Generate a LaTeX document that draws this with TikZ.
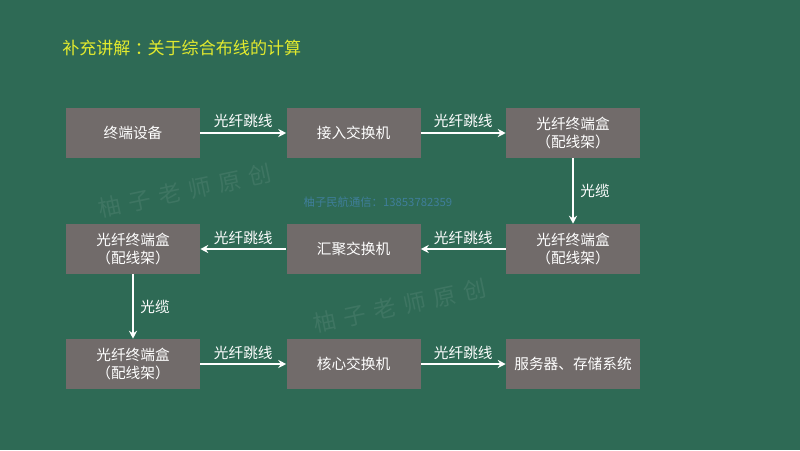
\documentclass[tikz,border=0pt]{standalone}
\usepackage{fontspec}
\setmainfont{Noto Sans CJK SC}
\usetikzlibrary{arrows.meta}
\definecolor{bg}{HTML}{2E6A55}
\definecolor{boxc}{HTML}{716B6A}
\definecolor{titlec}{HTML}{E2EA2E}
\definecolor{wmblue}{HTML}{3F7E9A}
\newcommand{\wmsp}{\hspace{0.35em}}
\begin{document}
\begin{tikzpicture}[x=0.75pt,y=-0.75pt,
  stepbox/.style={fill=boxc,draw=none,minimum width=100.5pt,minimum height=37.5pt,inner sep=0pt,text=white,font=\fontsize{11}{13.5}\selectfont,align=center},
  conn/.style={draw=white,line width=1.2pt,-{Stealth[length=6pt,width=6pt,open]}},
  lbl/.style={text=white,font=\fontsize{11}{13}\selectfont,inner sep=1pt},
  wmark/.style={rotate=12,text=white,opacity=0.08,inner sep=0pt,font=\fontsize{17}{18}\selectfont}]
\fill[bg] (0,0) rectangle (800,450);
\useasboundingbox (0,0) rectangle (800,450);
% watermarks
\node[wmark] (wm1) at (185,191) {柚\wmsp 子\wmsp 老\wmsp 师\wmsp 原\wmsp 创};
\node[wmark] (wm2) at (400,306) {柚\wmsp 子\wmsp 老\wmsp 师\wmsp 原\wmsp 创};
\node[text=wmblue,font=\fontsize{8.5}{10}\selectfont,inner sep=0pt] (wm3) at (378,202) {柚子民航通信：13853782359};
% title
\node[anchor=west,text=titlec,font=\fontsize{12.8}{14}\selectfont,inner sep=0pt] (title) at (62,48) {补充讲解\hspace{0.25em}：\hspace{-0.25em}关于综合布线的计算};
% boxes
\node[stepbox] (a1) at (133,133) {终端设备};
\node[stepbox] (a2) at (353.5,133) {接入交换机};
\node[stepbox] (a3) at (573,133) {光纤终端盒\\（配线架）};
\node[stepbox] (b3) at (573,249) {光纤终端盒\\（配线架）};
\node[stepbox] (b2) at (353.5,249) {汇聚交换机};
\node[stepbox] (b1) at (133,249) {光纤终端盒\\（配线架）};
\node[stepbox] (c1) at (133,364) {光纤终端盒\\（配线架）};
\node[stepbox] (c2) at (353.5,364) {核心交换机};
\node[stepbox] (c3) at (573,364) {服务器、存储系统};
% connectors
\draw[conn] (a1) -- node[lbl,above=2pt] {光纤跳线} (a2);
\draw[conn] (a2) -- node[lbl,above=2pt] {光纤跳线} (a3);
\draw[conn] (a3) -- node[lbl,right=4pt] {光缆} (b3);
\draw[conn] (b3) -- node[lbl,above=2pt] {光纤跳线} (b2);
\draw[conn] (b2) -- node[lbl,above=2pt] {光纤跳线} (b1);
\draw[conn] (b1) -- node[lbl,right=4pt] {光缆} (c1);
\draw[conn] (c1) -- node[lbl,above=2pt] {光纤跳线} (c2);
\draw[conn] (c2) -- node[lbl,above=2pt] {光纤跳线} (c3);
\end{tikzpicture}
\end{document}
